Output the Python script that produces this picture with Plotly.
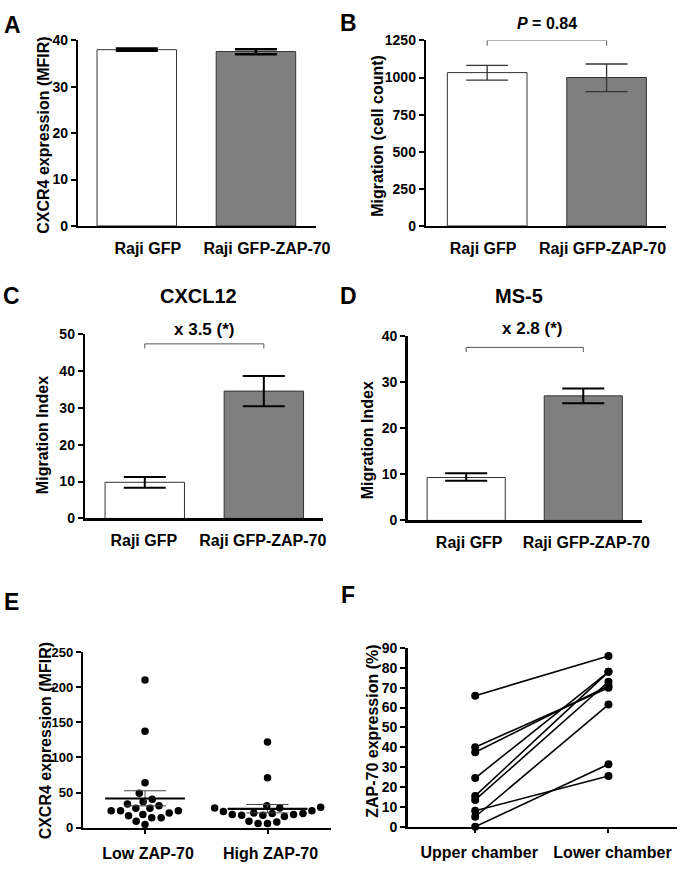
import numpy as np
import plotly.graph_objects as go

W, H = 696, 871
FONT = "Liberation Sans, Arial, sans-serif"

# ---------------- data ----------------
bar_cats = ["Raji GFP", "Raji GFP-ZAP-70"]
bar_colors = ["#ffffff", "#7f7f7f"]

# Panel A: CXCR4 expression (MFIR)
a_vals = [38.0, 37.6]
a_err_plus = [0.25, 0.5]
a_err_minus = [0.25, 0.6]

# Panel B: Migration (cell count)
b_vals = [1033, 1000]
b_err_plus = [49, 91]
b_err_minus = [51, 95]

# Panel C: CXCL12 migration index
c_vals = [9.8, 34.5]
c_err_plus = [1.4, 4.1]
c_err_minus = [1.5, 4.1]

# Panel D: MS-5 migration index
d_vals = [9.3, 27.0]
d_err_plus = [0.9, 1.6]
d_err_minus = [0.7, 1.6]

# Panel E: CXCR4 expression per patient
e_cats = ["Low ZAP-70", "High ZAP-70"]
e_low = [210, 137, 64, 49, 40.5, 36.8, 31, 27.5, 24, 24, 24, 27.5, 33.5,
         21, 17, 14, 4.6, 9, 14, 18.6]
e_high = [122, 71, 31, 28, 24, 23, 28, 29, 20, 18.6, 17.7, 16, 17.7, 18.6,
          20, 21, 8, 6, 6, 9.3]
e_means = [41.5, 26.7]
e_sem_plus = [11.0, 6.3]
e_sem_minus = [10.5, 5.7]

# Panel F: paired ZAP-70 expression (%)
f_cats = ["Upper chamber", "Lower chamber"]
f_upper = [66, 40, 37.5, 24.5, 15.5, 13.5, 8, 5, 0]
f_lower = [86, 70, 71, 78, 78, 73, 25.5, 61.5, 31.5]


# ---------------- helpers ----------------
def dom_x(x0, x1):
    return [x0 / W, x1 / W]


def dom_y(top, bottom):
    return [1 - bottom / H, 1 - top / H]


def swarm(values, center, px_per_x, px_per_y, d):
    placed = []
    xs = [0.0] * len(values)
    order = np.argsort(values, kind="stable")
    for i in order:
        y = values[i] * px_per_y
        intervals = []
        for (px, py) in placed:
            dy = abs(py - y)
            if dy < d:
                h = np.sqrt(d * d - dy * dy)
                intervals.append((px - h, px + h))
        cands = [0.0] + [a for a, b in intervals] + [b for a, b in intervals]
        cands.sort(key=lambda c: (abs(c), c))
        for c in cands:
            if all(not (a + 1e-6 < c < b - 1e-6) for a, b in intervals):
                xs[i] = c
                break
        placed.append((xs[i], y))
    return [center + x / px_per_x for x in xs]


fig = go.Figure()

bar_panels = [
    (a_vals, a_err_plus, a_err_minus, "x", "y", "#000000", 2.5),
    (b_vals, b_err_plus, b_err_minus, "x2", "y2", "#333333", 1.3),
    (c_vals, c_err_plus, c_err_minus, "x3", "y3", "#000000", 2),
    (d_vals, d_err_plus, d_err_minus, "x4", "y4", "#000000", 2),
]
for vals, ep, em, xa, ya, ecol, eth in bar_panels:
    fig.add_trace(go.Bar(
        x=[0, 1], y=vals, width=0.667, xaxis=xa, yaxis=ya,
        marker=dict(color=bar_colors, line=dict(color="#333333", width=1)),
        error_y=dict(type="data", symmetric=False, array=ep, arrayminus=em,
                     color=ecol, thickness=eth, width=21),
        showlegend=False, hoverinfo="skip",
    ))

# Brackets (B, C, D)
brackets = [
    ("x2", "y2", 1250, 35),
    ("x3", "y3", 47.3, 1.25),
    ("x4", "y4", 37.5, 1.0),
]
for xa, ya, top, drop in brackets:
    fig.add_trace(go.Scatter(
        x=[0, 0, 1, 1], y=[top - drop, top, top, top - drop], mode="lines",
        line=dict(color="#555555", width=1), xaxis=xa, yaxis=ya,
        cliponaxis=False, showlegend=False, hoverinfo="skip",
    ))

# Panel E scatter
e_pxx = 253 / 2.024
e_pxy = 179 / 250
for k, grp in enumerate([e_low, e_high]):
    xs = swarm(grp, k, e_pxx, e_pxy, 9.6)
    fig.add_trace(go.Scatter(
        x=xs, y=grp, mode="markers", xaxis="x5", yaxis="y5",
        marker=dict(color="black", size=7.5), cliponaxis=False,
        showlegend=False, hoverinfo="skip",
    ))
fig.add_trace(go.Scatter(
    x=[0, 1], y=e_means, mode="markers", xaxis="x5", yaxis="y5",
    marker=dict(symbol="line-ew", size=57, color="black",
                line=dict(color="black", width=2.2)),
    error_y=dict(type="data", symmetric=False, array=e_sem_plus,
                 arrayminus=e_sem_minus, color="#444444", thickness=1, width=21),
    showlegend=False, hoverinfo="skip", cliponaxis=False,
))

# Panel F paired lines
fx, fy = [], []
for u, l in zip(f_upper, f_lower):
    fx += [0, 1, None]
    fy += [u, l, None]
fig.add_trace(go.Scatter(
    x=fx, y=fy, mode="lines+markers", xaxis="x6", yaxis="y6",
    line=dict(color="black", width=1.6), marker=dict(color="black", size=8),
    cliponaxis=False, showlegend=False, hoverinfo="skip",
))

# ---------------- axes ----------------
catfont = dict(family=FONT, size=16, color="black", weight="bold")


def yax(dom, rng, dtick, anchor, size=14):
    return dict(domain=dom, range=rng, dtick=dtick, anchor=anchor,
                showline=True, linewidth=2.5, linecolor="black",
                ticks="outside", ticklen=5, tickwidth=2, tickcolor="black",
                showgrid=False, zeroline=False,
                tickfont=dict(family=FONT, size=size, color="black", weight="bold"))


def xax(dom, rng, labels, anchor, shift=0, ticks=""):
    return dict(domain=dom, range=rng, anchor=anchor,
                tickvals=[0, 1], ticktext=labels,
                showline=True, linewidth=2.5, linecolor="black",
                ticks=ticks, ticklen=4, tickwidth=2, tickcolor="black",
                showgrid=False, zeroline=False, tickfont=catfont,
                ticklabelshift=shift, ticklabelstandoff=6)


layout = dict(
    width=W, height=H, margin=dict(l=0, r=0, t=0, b=0),
    paper_bgcolor="white", plot_bgcolor="white",
    font=dict(family=FONT, color="black"),
    xaxis=xax(dom_x(80, 322), [-0.49, 1.5], bar_cats, "y", 11),
    yaxis=yax(dom_y(33, 222), [0, 40], 10, "x"),
    xaxis2=xax(dom_x(435, 680), [-0.51, 1.5], bar_cats, "y2", -4),
    yaxis2=yax(dom_y(33, 222), [0, 1250], 250, "x2"),
    xaxis3=xax(dom_x(87, 330), [-0.5, 1.5], bar_cats, "y3", -1),
    yaxis3=yax(dom_y(332, 520), [0, 50], 10, "x3"),
    xaxis4=xax(dom_x(416, 655), [-0.5, 1.5], bar_cats, "y4", 3),
    yaxis4=yax(dom_y(334, 522), [0, 40], 10, "x4"),
    xaxis5=xax(dom_x(85, 338), [-0.504, 1.52], e_cats, "y5", 3, "outside"),
    yaxis5=yax(dom_y(656, 835), [0, 250], 50, "x5", 13),
    xaxis6=xax(dom_x(416, 691), [-0.507, 1.515], f_cats, "y6", 4, "outside"),
    yaxis6=yax(dom_y(652, 834), [0, 90], 10, "x6"),
)

ann = []


def pann(text, x, y, size, angle=0):
    ann.append(dict(text=text, x=x / W, y=1 - y / H, xref="paper", yref="paper",
                    xanchor="center", yanchor="middle", showarrow=False,
                    textangle=angle,
                    font=dict(family=FONT, size=size, color="black", weight="bold")))


for letter, x, y in [("A", 13, 17), ("B", 356, 15), ("C", 12, 293),
                     ("D", 356, 293), ("E", 12, 605), ("F", 355, 598)]:
    pann(letter, x, y, 23)

pann("CXCL12", 203, 293, 20)
pann("MS-5", 530, 293, 20)

pann("CXCR4 expression (MFIR)", 44, 130, 16, -90)
pann("Migration (cell count)", 385, 130, 16, -90)
pann("Migration Index", 43, 435, 16, -90)
pann("Migration Index", 375, 440, 16, -90)
pann("CXCR4 expression (MFIR)", 46, 747, 16, -90)
pann("ZAP-70 expression (%)", 380, 737, 16, -90)

statfont = dict(family=FONT, size=16, color="black", weight="bold")
ann.append(dict(text="<i>P</i> = 0.84", x=0.5, y=1250, xref="x2", yref="y2",
                yanchor="bottom", yshift=6, showarrow=False, font=statfont))
ann.append(dict(text="x 3.5 (*)", x=0.5, y=47.3, xref="x3", yref="y3",
                yanchor="bottom", yshift=3, showarrow=False,
                font=dict(family=FONT, size=17, color="black", weight="bold")))
ann.append(dict(text="x 2.8 (*)", x=0.5, y=37.5, xref="x4", yref="y4",
                yanchor="bottom", xshift=7, yshift=7, showarrow=False,
                font=dict(family=FONT, size=17, color="black", weight="bold")))
ann.append(dict(text="<i>P</i> = 0.002", x=0, y=93, xref="x6", yref="y6",
                yanchor="middle", showarrow=False, font=statfont))

layout["annotations"] = ann
fig.update_layout(**layout)
fig.write_html(
    "out.html",
    config={"displayModeBar": False, "staticPlot": True},
    post_script="document.body.style.margin='0';document.body.style.overflow='hidden';",
)
